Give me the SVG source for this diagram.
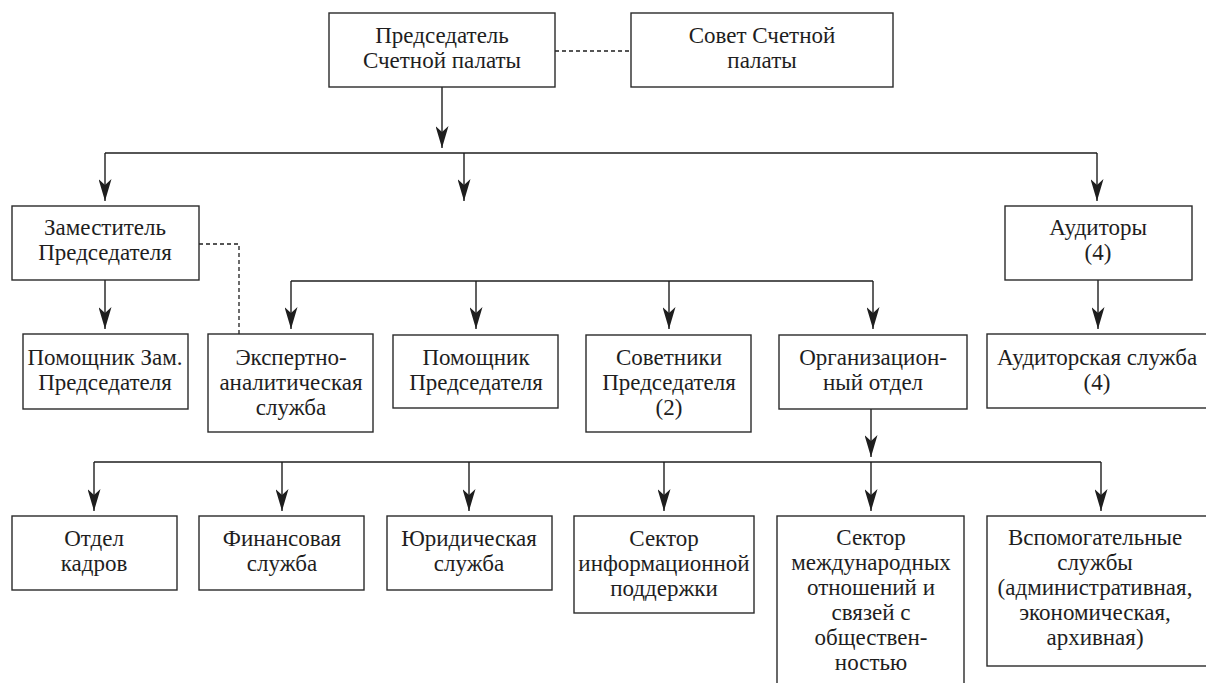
<svg xmlns="http://www.w3.org/2000/svg" width="1206" height="683" viewBox="0 0 1206 683">
<style>
.box{fill:#fff;stroke:#2a2a2a;stroke-width:1.4}
.t{font-family:'Liberation Serif','Times New Roman',serif;font-size:23px;fill:#1e1e1e;text-anchor:middle}
.ln{fill:none;stroke:#1e1e1e;stroke-width:1.4}
.ar{fill:none;stroke:#1e1e1e;stroke-width:1.4;marker-end:url(#ah)}
.dash{fill:none;stroke:#1e1e1e;stroke-width:1.3;stroke-dasharray:4 3}
</style>
<defs>
<marker id="ah" viewBox="0 0 22 13" refX="22" refY="6.5" markerWidth="22" markerHeight="13" markerUnits="userSpaceOnUse" orient="auto">
<path d="M0,0 L22,6.5 L0,13 L6,6.5 Z" fill="#1e1e1e"/>
</marker>
</defs>
<rect width="1206" height="683" fill="#fff"/>
<g id="connectors">
<path class="dash" d="M555,51 H631"/>
<path class="dash" d="M199,244 H239 V334"/>
<path class="ar" d="M442,87 V148"/>
<path class="ln" d="M105,153 H1097"/>
<path class="ar" d="M105,153 V201"/>
<path class="ar" d="M464,153 V201"/>
<path class="ar" d="M1097,153 V201"/>
<path class="ar" d="M105,280 V329"/>
<path class="ar" d="M1098,280 V329"/>
<path class="ln" d="M291,281 H873"/>
<path class="ar" d="M291,281 V329"/>
<path class="ar" d="M476,281 V329"/>
<path class="ar" d="M669,281 V329"/>
<path class="ar" d="M873,281 V329"/>
<path class="ar" d="M871,409 V457"/>
<path class="ln" d="M94,462 H1101"/>
<path class="ar" d="M94,462 V511"/>
<path class="ar" d="M282,462 V511"/>
<path class="ar" d="M469,462 V511"/>
<path class="ar" d="M664,462 V511"/>
<path class="ar" d="M871,462 V511"/>
<path class="ar" d="M1101,462 V511"/>
</g>
<g id="n_chair"><rect class="box" x="329" y="13" width="226" height="74"/><text class="t" x="442" y="43">Председатель</text><text class="t" x="442" y="68">Счетной палаты</text></g>
<g id="n_council"><rect class="box" x="631" y="13" width="262" height="74"/><text class="t" x="762" y="43">Совет Счетной</text><text class="t" x="762" y="68">палаты</text></g>
<g id="n_deputy"><rect class="box" x="12" y="206" width="187" height="74"/><text class="t" x="105" y="235">Заместитель</text><text class="t" x="105" y="260">Председателя</text></g>
<g id="n_auditors"><rect class="box" x="1005" y="206" width="187" height="74"/><text class="t" x="1098" y="235">Аудиторы</text><text class="t" x="1098" y="260">(4)</text></g>
<g id="n_deputy_asst"><rect class="box" x="23" y="334" width="165" height="75"/><text class="t" x="105" y="365">Помощник Зам.</text><text class="t" x="105" y="390">Председателя</text></g>
<g id="n_expert"><rect class="box" x="208" y="334" width="165" height="98"/><text class="t" x="291" y="365">Экспертно-</text><text class="t" x="291" y="390">аналитическая</text><text class="t" x="291" y="415">служба</text></g>
<g id="n_chair_asst"><rect class="box" x="393" y="335" width="165" height="73"/><text class="t" x="476" y="365">Помощник</text><text class="t" x="476" y="390">Председателя</text></g>
<g id="n_advisers"><rect class="box" x="586" y="335" width="165" height="97"/><text class="t" x="669" y="365">Советники</text><text class="t" x="669" y="390">Председателя</text><text class="t" x="669" y="415">(2)</text></g>
<g id="n_org"><rect class="box" x="779" y="335" width="188" height="74"/><text class="t" x="873" y="365">Организацион-</text><text class="t" x="873" y="390">ный отдел</text></g>
<g id="n_audit_service"><rect class="box" x="987" y="334" width="230" height="74"/><text class="t" x="1097" y="365">Аудиторская служба</text><text class="t" x="1097" y="390">(4)</text></g>
<g id="n_hr"><rect class="box" x="12" y="516" width="165" height="74"/><text class="t" x="94" y="546">Отдел</text><text class="t" x="94" y="571">кадров</text></g>
<g id="n_fin"><rect class="box" x="199" y="516" width="165" height="74"/><text class="t" x="282" y="546">Финансовая</text><text class="t" x="282" y="571">служба</text></g>
<g id="n_legal"><rect class="box" x="387" y="516" width="165" height="74"/><text class="t" x="469" y="546">Юридическая</text><text class="t" x="469" y="571">служба</text></g>
<g id="n_info"><rect class="box" x="574" y="516" width="180" height="97"/><text class="t" x="664" y="546">Сектор</text><text class="t" x="664" y="571">информационной</text><text class="t" x="664" y="596">поддержки</text></g>
<g id="n_intl"><rect class="box" x="777" y="516" width="187" height="180"/><text class="t" x="871" y="545">Сектор</text><text class="t" x="871" y="570">международных</text><text class="t" x="871" y="595">отношений и</text><text class="t" x="871" y="620">связей с</text><text class="t" x="871" y="645">обществен-</text><text class="t" x="871" y="670">ностью</text></g>
<g id="n_aux"><rect class="box" x="987" y="516" width="230" height="150"/><text class="t" x="1095" y="545">Вспомогательные</text><text class="t" x="1095" y="570">службы</text><text class="t" x="1095" y="595">(административная,</text><text class="t" x="1095" y="620">экономическая,</text><text class="t" x="1095" y="645">архивная)</text></g>
</svg>
